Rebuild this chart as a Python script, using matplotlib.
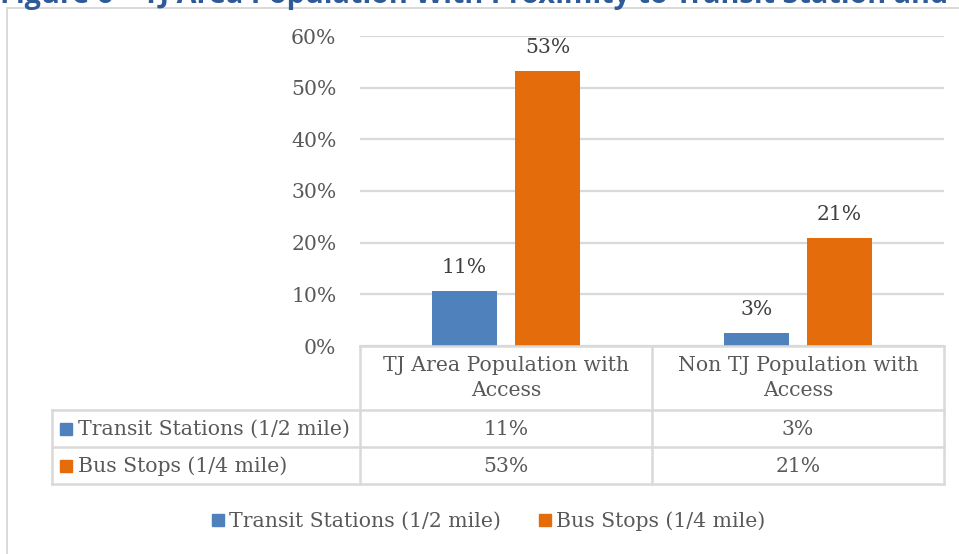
import matplotlib
matplotlib.use("Agg")
import matplotlib.pyplot as plt
from matplotlib.patches import Rectangle
from matplotlib.lines import Line2D

# ---- data ----
categories = ["TJ Area Population with\nAccess", "Non TJ Population with\nAccess"]
series_names = ["Transit Stations (1/2 mile)", "Bus Stops (1/4 mile)"]
transit_values = [0.107, 0.026]
bus_values = [0.532, 0.210]
y_ticks = [0.0, 0.1, 0.2, 0.3, 0.4, 0.5, 0.6]
title_text = "Figure 6 – TJ Area Population With Proximity to Transit Station and"

colors = ["#4F81BD", "#E46C0A"]
TXT = "#595959"
GRID = "#D9D9D9"
W, H = 959, 554
FONT = "DejaVu Serif"
FS = 14.7

fig = plt.figure(figsize=(W / 100, H / 100), dpi=100)

def fx(x):
    return x / W

def fy(y):
    return 1 - y / H

# outer frame
fig.add_artist(Line2D([fx(6.5), fx(W + 5)], [fy(7.5), fy(7.5)], color=GRID, lw=1.4))
fig.add_artist(Line2D([fx(6.5), fx(6.5)], [fy(7.5), fy(H + 5)], color=GRID, lw=1.4))

# title (clipped at top, as in the reference)
fig.text(fx(0), fy(3), title_text, color="#2E5A97", fontsize=20.8,
         fontweight="bold", family="Open Sans", ha="left", va="baseline")

# axes
L, R, T, B = 360, 944, 36, 346
ax = fig.add_axes([fx(L), fy(B), fx(R - L), (B - T) / H])
n = len(categories)
xs = list(range(n))
bw = 0.223
off = 0.142
for vals, c, sgn in [(transit_values, colors[0], -1), (bus_values, colors[1], 1)]:
    bars = ax.bar([x + sgn * off for x in xs], vals, width=bw, color=c, zorder=3)
    for b, v in zip(bars, vals):
        ax.annotate(f"{v * 100:.0f}%", (b.get_x() + b.get_width() / 2, v),
                    xytext=(0, 10), textcoords="offset points", ha="center",
                    va="bottom", fontsize=FS, family=FONT, color="#404040")
ax.set_xlim(-0.5, n - 0.5)
ax.set_ylim(0, 0.6)
ax.set_yticks(y_ticks)
ax.set_yticklabels([f"{t * 100:.0f}%" for t in y_ticks], fontsize=FS, family=FONT, color=TXT)
ax.tick_params(axis="y", length=0, pad=17)
ax.set_xticks([])
ax.grid(axis="y", color=GRID, lw=1.6, zorder=0)
for s in ax.spines.values():
    s.set_visible(False)

# data table
col_w = (R - L) / n
tab_left = 52
row_lines = [346, 410, 447, 484]
lw_t = 1.8
fig.add_artist(Line2D([fx(L), fx(R)], [fy(346), fy(346)], color=GRID, lw=lw_t))
for i in range(n + 1):
    x = L + i * col_w
    fig.add_artist(Line2D([fx(x), fx(x)], [fy(346), fy(484)], color=GRID, lw=lw_t))
for y in row_lines[1:]:
    fig.add_artist(Line2D([fx(tab_left), fx(R)], [fy(y), fy(y)], color=GRID, lw=lw_t))
fig.add_artist(Line2D([fx(tab_left), fx(tab_left)], [fy(410), fy(484)], color=GRID, lw=lw_t))

for i, cat in enumerate(categories):
    fig.text(fx(L + (i + 0.5) * col_w), fy(378), cat, ha="center", va="center",
             fontsize=FS, family=FONT, color=TXT, linespacing=1.35)
rows = [transit_values, bus_values]
for r, (name, vals) in enumerate(zip(series_names, rows)):
    yc = (row_lines[r + 1] + row_lines[r + 2]) / 2
    fig.add_artist(Rectangle((fx(60), fy(yc + 6)), fx(12), 12 / H, color=colors[r]))
    fig.text(fx(78), fy(yc + 1), name, ha="left", va="center", fontsize=FS,
             family=FONT, color=TXT)
    for i, v in enumerate(vals):
        fig.text(fx(L + (i + 0.5) * col_w), fy(yc + 1), f"{v * 100:.0f}%",
                 ha="center", va="center", fontsize=FS, family=FONT, color=TXT)

# legend
leg_y = 520
for name, c, x0 in [(series_names[0], colors[0], 212), (series_names[1], colors[1], 539)]:
    fig.add_artist(Rectangle((fx(x0), fy(leg_y + 6)), fx(12), 12 / H, color=c))
    fig.text(fx(x0 + 17), fy(leg_y + 1), name, ha="left", va="center", fontsize=FS,
             family=FONT, color=TXT)

fig.savefig("out.png", dpi=100)
